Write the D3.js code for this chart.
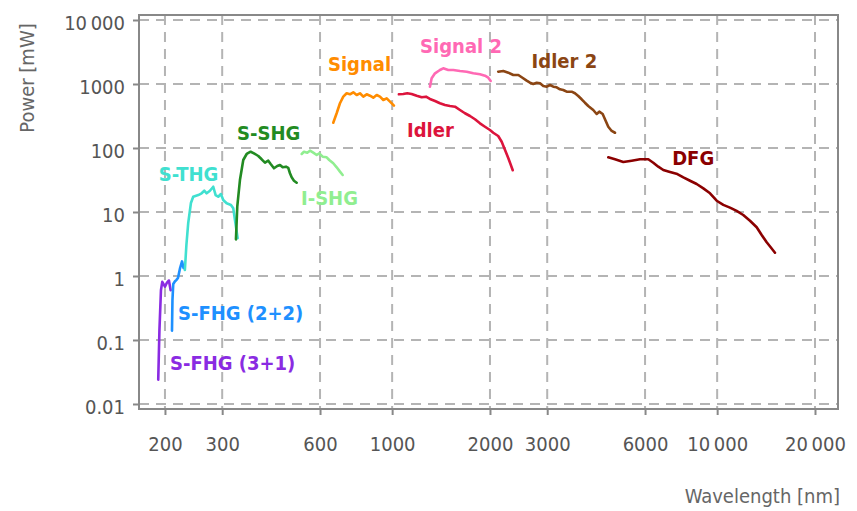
<!DOCTYPE html>
<html>
<head>
<meta charset="utf-8">
<script src="https://cdn.jsdelivr.net/npm/d3@7"></script>
<style>
  body { margin: 0; background: #fff; }
  text { font-family: "DejaVu Sans Condensed", "DejaVu Sans", sans-serif; }
</style>
</head>
<body>
<div class="chart"></div>
<script>
var svgWidth = 857;
var svgHeight = 511;

var margin = { top: 15, right: 19, bottom: 102, left: 139 };
var width = svgWidth - margin.left - margin.right;
var height = svgHeight - margin.top - margin.bottom;

// each series: [wavelength nm, power mW]
var sFhg31 = [[190.7, 0.024], [192.3, 0.14], [194.4, 0.6], [196.2, 0.81], [200, 0.68],
  [202.9, 0.79], [205.7, 0.85], [208.2, 0.6]];
var sFhg22 = [[210.2, 0.14], [210.9, 0.42], [212.1, 0.75], [214.5, 0.82], [217, 0.87],
  [219.3, 0.93], [222.6, 1.33], [225.7, 1.69], [228.1, 1.33]];
var sThg = [[230.3, 1.24], [232.8, 3.05], [235.8, 6.7], [240.4, 13.8], [244.3, 17.3],
  [253.2, 18.4], [259.3, 19.6], [264.2, 21.5], [268.7, 19.6], [275.1, 21.5], [281.6, 24.8],
  [286.4, 18.4], [291.7, 17.3], [297.3, 19.1], [302.2, 15.4], [309.6, 13.7], [319.2, 12.9],
  [324.5, 11.4], [328.4, 7.5], [334.7, 3.9]];
var sShg = [[330.7, 3.74], [333.8, 12.1], [340.2, 31.6], [348.3, 64.9], [356.8, 80.6],
  [367, 87.5], [375.7, 82.6], [387.4, 75], [396.8, 66.6], [406.2, 58.9], [415.8, 63.4],
  [422.9, 56.2], [433, 48.2], [443.2, 52.3], [451.8, 54.3], [460.5, 49.9], [471.4, 51.1],
  [479.1, 49], [484.9, 40.3], [490.7, 34.8], [498.8, 30.8], [508.4, 28.7]];
var iShg = [[526.8, 80.6], [535.5, 87.5], [548.1, 84.5], [558.7, 90.8], [571.9, 84.5],
  [585.8, 77.8], [596.7, 82.6], [611.2, 73.1], [628.8, 71.6], [640.5, 64.9], [658.9, 57.7],
  [675, 49.9], [691, 42.7], [704.4, 37.9]];
var signal = [[658.9, 248], [675, 349], [691, 500], [707.4, 634], [724.6, 716], [741.7, 690],
  [759.3, 742], [777.7, 673], [796.2, 716], [815.1, 634], [834.9, 690], [854.7, 656],
  [875, 611], [896.3, 673], [917.5, 634], [939.3, 562], [962.2, 598], [984.9, 529], [1013, 458]];
var idler = [[1049, 690], [1082, 698], [1113, 716], [1148, 698], [1190, 656], [1233, 620],
  [1271, 634], [1307, 583], [1355, 542], [1403, 500], [1454, 470], [1506, 453], [1561, 442],
  [1617, 392], [1675, 349], [1736, 316], [1798, 281], [1863, 243], [1930, 215], [2000, 191],
  [2047, 173], [2120, 154], [2173, 125], [2225, 93], [2278, 69], [2350, 45]];
var signal2 = [[1307, 907], [1323, 1228], [1355, 1469], [1403, 1655], [1436, 1759],
  [1488, 1655], [1542, 1655], [1617, 1596], [1696, 1557], [1777, 1469], [1863, 1418],
  [1930, 1348], [1976, 1254], [2010, 1114]];
var idler2 = [[2120, 1557], [2198, 1596], [2278, 1502], [2359, 1383], [2445, 1383],
  [2504, 1273], [2594, 1127], [2655, 1048], [2718, 1000], [2785, 1048], [2851, 1025],
  [2918, 931], [2990, 907], [3060, 964], [3132, 907], [3208, 888], [3284, 826], [3361, 806],
  [3443, 758], [3567, 758], [3651, 716], [3738, 649], [3829, 577], [3919, 510], [4012, 453],
  [4157, 392], [4258, 340], [4338, 369], [4444, 340], [4517, 281], [4624, 215], [4737, 184.5],
  [4849, 173]];
var dfg = [[4624, 71.6], [4849, 66.6], [5143, 60.4], [5458, 63.4], [5788, 66.6], [6139, 66.6],
  [6361, 58.9], [6590, 51.1], [6828, 45.3], [7160, 42.2], [7543, 39.2], [7871, 34.8],
  [8252, 30.8], [8650, 27.4], [9067, 23.4], [9507, 19.6], [9968, 15], [10445, 12.9],
  [10949, 11.7], [11480, 10.4], [12030, 8.97], [12619, 7.31], [13232, 5.77], [13710, 4.37],
  [14204, 3.36], [14612, 2.81], [15063, 2.31]];

var seriesNames = ["S-FHG (3+1)", "S-FHG (2+2)", "S-THG", "S-SHG", "I-SHG",
  "Signal", "Idler", "Signal 2", "Idler 2", "DFG"];
var seriesData = [sFhg31, sFhg22, sThg, sShg, iShg, signal, idler, signal2, idler2, dfg];
var seriesColors = ["#8a2be2", "#1e90ff", "#40e0d0", "#228b22", "#90ee90",
  "#ff8c00", "#dc143c", "#ff69b4", "#8b4513", "#8b0000"];
// label anchor (left end of baseline) in data units
var labelPos = [[207.2, 0.034], [219.3, 0.205], [191.4, 30.5], [333.2, 133], [524.3, 12.9],
  [634.8, 1597], [1111, 148.5], [1219, 3050], [2686, 1778], [7271, 54.2]];

var xTicks = [200, 300, 600, 1000, 2000, 3000, 6000, 10000, 20000];
var xTickLabels = ["200", "300", "600", "1000", "2000", "3000", "6000", "10\u2009000", "20\u2009000"];
var yTicks = [0.01, 0.1, 1, 10, 100, 1000, 10000];
var yTickLabels = ["0.01", "0.1", "1", "10", "100", "1000", "10\u2009000"];

var svg = d3.select(".chart")
  .append("svg")
  .attr("width", svgWidth)
  .attr("height", svgHeight);

var chartGroup = svg.append("g")
  .attr("transform", `translate(${margin.left}, ${margin.top})`);

var x = d3.scaleLog().domain([166.4, 23540]).range([0, width]);
var y = d3.scaleLog().domain([0.00835, 11970]).range([height, 0]);

// grid
chartGroup.append("g")
  .selectAll("line")
  .data(yTicks)
  .enter()
  .append("line")
  .attr("x1", 0).attr("x2", width)
  .attr("y1", d => y(d)).attr("y2", d => y(d))
  .attr("stroke", "#b4b4b4")
  .attr("stroke-width", 2)
  .attr("stroke-dasharray", "10,7");

chartGroup.append("g")
  .selectAll("line")
  .data(xTicks)
  .enter()
  .append("line")
  .attr("x1", d => x(d)).attr("x2", d => x(d))
  .attr("y1", 0).attr("y2", height)
  .attr("stroke", "#b4b4b4")
  .attr("stroke-width", 2)
  .attr("stroke-dasharray", "10,7");

// axes
var bottomAxis = d3.axisBottom(x)
  .tickValues(xTicks)
  .tickSize(6)
  .tickPadding(22)
  .tickFormat((d, i) => xTickLabels[i]);
var leftAxis = d3.axisLeft(y)
  .tickValues(yTicks)
  .tickSize(6)
  .tickPadding(8)
  .tickFormat((d, i) => yTickLabels[i]);

var xAxis = chartGroup.append("g")
  .attr("transform", `translate(0, ${height})`)
  .call(bottomAxis);
var yAxis = chartGroup.append("g")
  .call(leftAxis);

[xAxis, yAxis].forEach(function (ax) {
  ax.select(".domain").remove();
  ax.selectAll("line").attr("stroke", "#888").attr("stroke-width", 2);
  ax.selectAll("text")
    .attr("fill", "#555")
    .style("font-size", "20px")
    .style("font-family", "'DejaVu Sans Condensed', 'DejaVu Sans', sans-serif");
});
yAxis.selectAll("text").attr("dy", "0.5em");

// frame
chartGroup.append("rect")
  .attr("width", width)
  .attr("height", height)
  .attr("fill", "none")
  .attr("stroke", "#888")
  .attr("stroke-width", 2);

// curves
var line = d3.line()
  .x(d => x(d[0]))
  .y(d => y(d[1]));

chartGroup.selectAll(".curve")
  .data(seriesData)
  .enter()
  .append("path")
  .attr("class", "curve")
  .attr("d", line)
  .attr("fill", "none")
  .attr("stroke", (d, i) => seriesColors[i])
  .attr("stroke-width", 2.6)
  .attr("stroke-linejoin", "round")
  .attr("stroke-linecap", "round");

chartGroup.selectAll(".label")
  .data(seriesNames)
  .enter()
  .append("text")
  .attr("class", "label")
  .attr("x", (d, i) => x(labelPos[i][0]))
  .attr("y", (d, i) => y(labelPos[i][1]))
  .attr("fill", (d, i) => seriesColors[i])
  .style("font-size", "20px")
  .style("font-weight", "bold")
  .text(d => d);

// axis titles
svg.append("text")
  .attr("transform", "translate(34, 78) rotate(-90)")
  .attr("text-anchor", "middle")
  .attr("fill", "#666")
  .style("font-size", "20px")
  .text("Power [mW]");

svg.append("text")
  .attr("x", 840)
  .attr("y", 503)
  .attr("text-anchor", "end")
  .attr("fill", "#666")
  .style("font-size", "20px")
  .text("Wavelength [nm]");
</script>
</body>
</html>
